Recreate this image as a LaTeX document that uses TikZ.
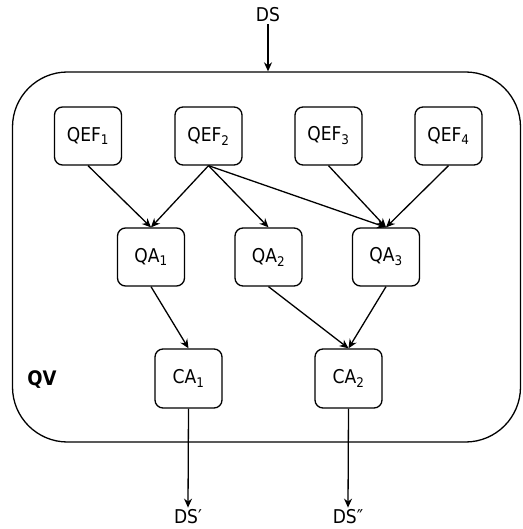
\documentclass[tikz,border=0pt]{standalone}
\usepackage{fontspec}
\setmainfont{DejaVu Sans Condensed}
\usetikzlibrary{arrows.meta}
\tikzset{
  box/.style={draw, line width=1.3pt, rounded corners=8pt, minimum width=67pt, minimum height=58pt, inner sep=0pt, font=\fontsize{19}{21}\selectfont},
  lbl/.style={inner sep=2pt, font=\fontsize{19}{21}\selectfont},
  conn/.style={line width=1.3pt, -{Stealth[length=9pt,width=8pt]}},
  frame/.style={draw, line width=1.3pt, rounded corners=55pt, minimum width=508pt, minimum height=370pt, inner sep=0pt}
}
\begin{document}
\begin{tikzpicture}[x=1pt,y=-1pt]
\useasboundingbox (0,0) rectangle (522,529);
\node[frame] (qv) at (266.5,257) {};
\node[lbl, font=\fontsize{20}{22}\selectfont\bfseries] (qvl) at (42,380) {QV};
\node[lbl] (ds) at (268,15) {DS};
\node[box] (qef1) at (88,136) {QEF\textsubscript{1}};
\node[box] (qef2) at (208.5,136) {QEF\textsubscript{2}};
\node[box] (qef3) at (328.5,136) {QEF\textsubscript{3}};
\node[box] (qef4) at (448.5,136) {QEF\textsubscript{4}};
\node[box] (qa1) at (151,257) {QA\textsubscript{1}};
\node[box] (qa2) at (268.5,257) {QA\textsubscript{2}};
\node[box] (qa3) at (386,257) {QA\textsubscript{3}};
\node[box, minimum height=59pt] (ca1) at (188.5,378.5) {CA\textsubscript{1}};
\node[box, minimum height=59pt] (ca2) at (348.5,378.5) {CA\textsubscript{2}};
\node[lbl] (ds1) at (188,517) {DS′};
\node[lbl] (ds2) at (348,517) {DS″};
\coordinate (dsin) at (ds.south |- qv.north);
\draw[conn] (ds) -- (dsin);
\draw[conn] (qef1.south) -- (qa1.north);
\draw[conn] (qef2.south) -- (qa1.north);
\draw[conn] (qef2.south) -- (qa2.north);
\draw[conn] (qef2.south) -- (qa3.north);
\draw[conn] (qef3.south) -- (qa3.north);
\draw[conn] (qef4.south) -- (qa3.north);
\draw[conn] (qa1.south) -- (ca1.north);
\draw[conn] (qa2.south) -- (ca2.north);
\draw[conn] (qa3.south) -- (ca2.north);
\draw[conn] (ca1.south) -- (ds1.north);
\draw[conn] (ca2.south) -- (ds2.north);
\end{tikzpicture}
\end{document}
